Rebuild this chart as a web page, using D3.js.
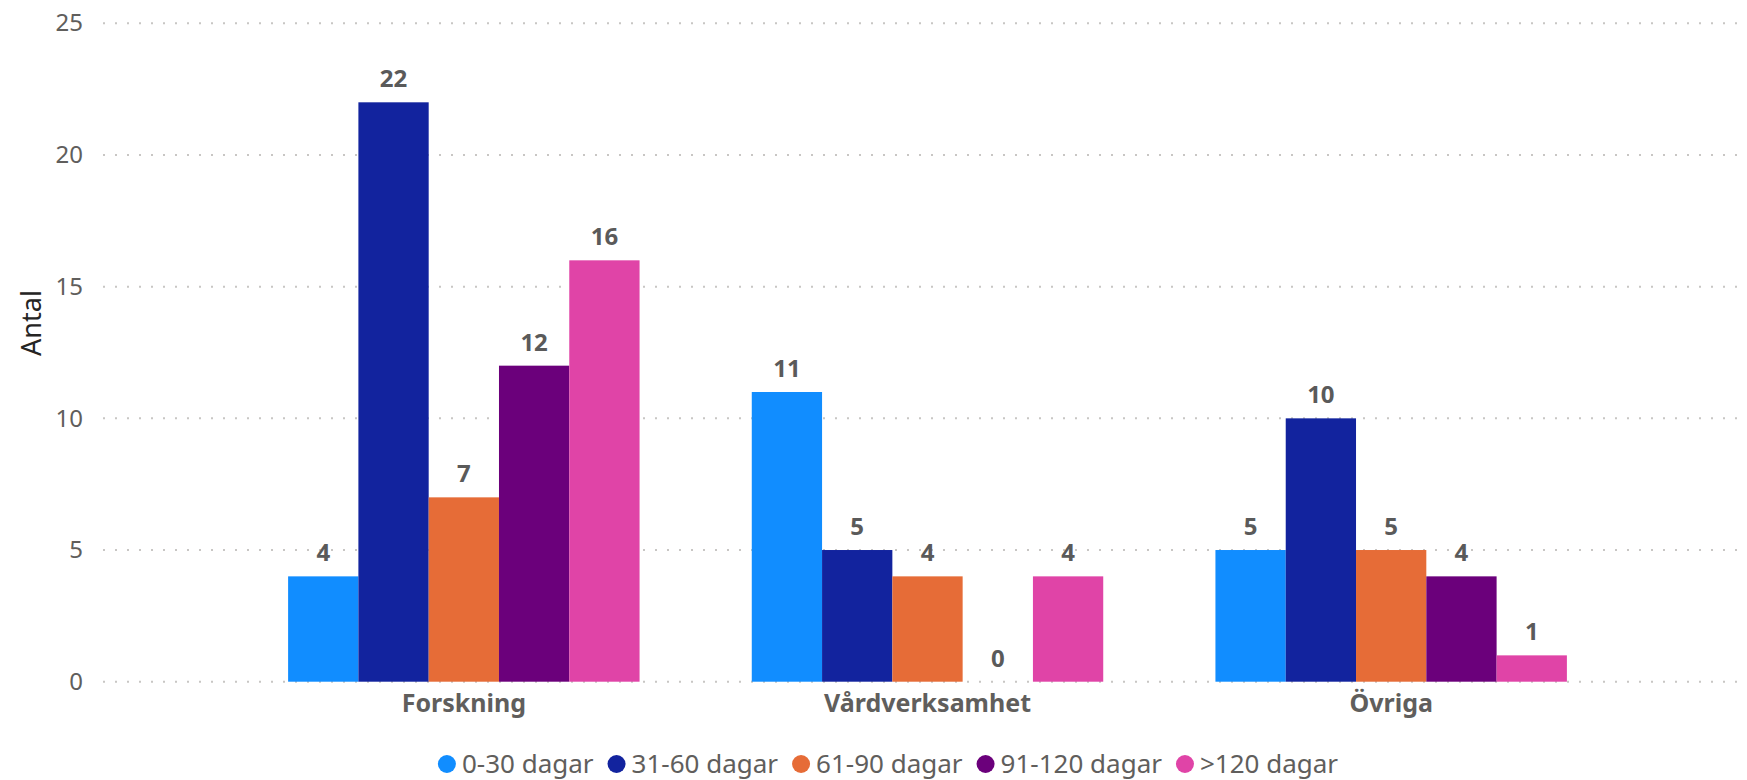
<!DOCTYPE html>
<html>
<head>
<meta charset="utf-8">
<script src="https://cdn.jsdelivr.net/npm/d3@7"></script>
<style>
  body { margin: 0; background: #fff; }
  text { font-family: "Segoe UI", "Noto Sans", sans-serif; }
</style>
</head>
<body>
<script>
// data
var categories = ["Forskning", "Vårdverksamhet", "Övriga"];
var seriesNames = ["0-30 dagar", "31-60 dagar", "61-90 dagar", "91-120 dagar", ">120 dagar"];
var seriesColors = ["#118DFF", "#12239E", "#E66C37", "#6B007B", "#E044A7"];
var v0_30 = [4, 11, 5];
var v31_60 = [22, 5, 10];
var v61_90 = [7, 4, 5];
var v91_120 = [12, 0, 4];
var v120 = [16, 4, 1];
var yTicks = [0, 5, 10, 15, 20, 25];

var allValues = [v0_30, v31_60, v61_90, v91_120, v120];

var W = 1747, H = 780;
var svg = d3.select("body").append("svg").attr("width", W).attr("height", H);

var y = d3.scaleLinear().domain([0, 25]).range([681.7, 23.3]);
var x0 = d3.scaleBand().domain(categories).range([232, 1623])
  .paddingInner(0.242).paddingOuter(0.121);
var x1 = d3.scaleBand().domain(seriesNames).range([0, x0.bandwidth()]);

// gridlines
svg.append("g").selectAll("line").data(yTicks).enter().append("line")
  .attr("x1", 103).attr("x2", W)
  .attr("y1", function (d) { return y(d); })
  .attr("y2", function (d) { return y(d); })
  .attr("stroke", "#c8c6c4").attr("stroke-width", 2)
  .attr("stroke-dasharray", "2,10");

// y axis labels
var yAxis = svg.append("g").attr("transform", "translate(83,0)")
  .call(d3.axisLeft(y).tickValues(yTicks).tickSize(0).tickPadding(0));
yAxis.select(".domain").remove();
yAxis.selectAll("text").attr("fill", "#605E5C").style("font-size", "24px")
  .style("font-family", "'Segoe UI', 'Noto Sans', sans-serif");

svg.append("text").attr("transform", "translate(41,323) rotate(-90)")
  .attr("text-anchor", "middle").attr("fill", "#252423")
  .style("font-size", "27px").text("Antal");

// bars
var rows = [];
categories.forEach(function (c, ci) {
  seriesNames.forEach(function (s, si) {
    rows.push({cat: c, ser: s, si: si, val: allValues[si][ci]});
  });
});

var bars = svg.append("g");
bars.selectAll("rect").data(rows).enter().append("rect")
  .attr("x", function (d) { return x0(d.cat) + x1(d.ser); })
  .attr("y", function (d) { return y(d.val); })
  .attr("width", x1.bandwidth())
  .attr("height", function (d) { return y(0) - y(d.val); })
  .attr("fill", function (d) { return seriesColors[d.si]; });

bars.selectAll("text").data(rows).enter().append("text")
  .attr("x", function (d) { return x0(d.cat) + x1(d.ser) + x1.bandwidth() / 2; })
  .attr("y", function (d) { return y(d.val) - 15; })
  .attr("text-anchor", "middle").attr("fill", "#5a5a5a")
  .style("font-size", "24px").style("font-weight", "bold")
  .text(function (d) { return d.val; });

// x axis labels
var xAxis = svg.append("g").attr("transform", "translate(0,688)")
  .call(d3.axisBottom(x0).tickSize(0).tickPadding(6));
xAxis.select(".domain").remove();
xAxis.selectAll("text").attr("fill", "#605E5C").style("font-size", "25px")
  .style("font-weight", "bold").style("font-family", "'Segoe UI', 'Noto Sans', sans-serif");

// legend
var legend = svg.append("g");
var items = legend.selectAll("g").data(seriesNames).enter().append("g");
items.append("circle").attr("r", 9).attr("cy", 0).attr("cx", 9)
  .attr("fill", function (d, i) { return seriesColors[i]; });
items.append("text").attr("x", 24).attr("y", 0).attr("dy", "0.35em")
  .attr("fill", "#605E5C").style("font-size", "26px")
  .text(function (d) { return d; });
var pos = 0;
items.each(function () {
  var w = d3.select(this).select("text").node().getComputedTextLength();
  d3.select(this).attr("transform", "translate(" + pos + ",0)");
  pos += 24 + w + 14;
});
var total = pos - 14;
legend.attr("transform", "translate(" + (888 - total / 2) + ",764)");
</script>
</body>
</html>
